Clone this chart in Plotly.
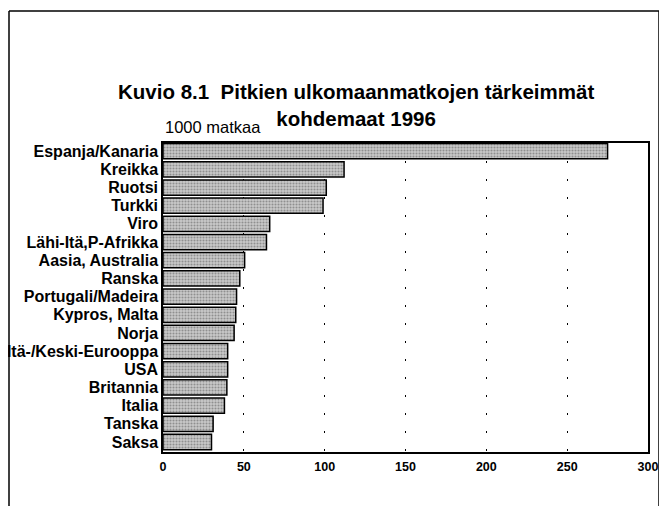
import plotly.graph_objects as go

# data (1000 trips)
countries = ["Espanja/Kanaria", "Kreikka", "Ruotsi", "Turkki", "Viro",
             "Lähi-Itä,P-Afrikka", "Aasia, Australia", "Ranska",
             "Portugali/Madeira", "Kypros, Malta", "Norja",
             "Itä-/Keski-Eurooppa", "USA", "Britannia", "Italia",
             "Tanska", "Saksa"]
trips = [275, 112, 101, 99, 66, 64, 50.5, 47.5, 45.5, 45, 44,
         40, 40, 39.5, 38, 31, 30]
xticks = [0, 50, 100, 150, 200, 250, 300]

font = "Liberation Sans, Arial, sans-serif"

# page body has an 8px margin, so the figure is laid out 8px smaller
OFF = 8
PL, PT, PW, PH = 163 - OFF, 143 - OFF, 485, 309
W, H = 667 - OFF, 506 - OFF

fig = go.Figure()
fig.add_trace(go.Bar(
    x=trips, y=countries, orientation="h",
    marker=dict(color="#c9c9c9",
                line=dict(color="black", width=1.5),
                pattern=dict(shape=".", fgcolor="#555555", size=3, solidity=0.4)),
))

fig.update_layout(
    width=W, height=H,
    margin=dict(l=PL, r=W - PL - PW, t=PT, b=H - PT - PH, autoexpand=False),
    paper_bgcolor="white", plot_bgcolor="white",
    showlegend=False, bargap=0.16,
    font=dict(family=font, color="black"),
)

fig.update_xaxes(
    range=[0, 300], tickvals=xticks, ticks="",
    tickfont=dict(size=12.5, family=font, weight="bold"),
    showgrid=True, gridcolor="black", gridwidth=1, griddash="2px,16px",
    showline=True, linecolor="black", linewidth=1.5, mirror=True,
    zeroline=False, ticklabelstandoff=2,
)
fig.update_yaxes(
    categoryorder="array", categoryarray=countries,
    tickmode="linear", tick0=0, dtick=1,
    range=[16.55, -0.45], ticks="",
    tickfont=dict(size=16, family=font, weight="bold"),
    showgrid=False, showline=True, linecolor="black", linewidth=1.5,
    mirror=True, ticklabelstandoff=0,
)


def px(x):
    return (x - OFF - PL) / PW


def py(y):
    return (PT + PH - (y - OFF)) / PH


# title and unit label
fig.add_annotation(
    text="Kuvio 8.1  Pitkien ulkomaanmatkojen tärkeimmät<br>kohdemaat 1996",
    xref="paper", yref="paper", x=px(356), y=py(105),
    xanchor="center", yanchor="middle", showarrow=False,
    font=dict(size=20.5, family=font, weight="bold"),
)
fig.add_annotation(
    text="1000 matkaa", xref="paper", yref="paper", x=px(163), y=py(127),
    xanchor="left", yanchor="middle", showarrow=False,
    font=dict(size=16.5, family=font),
)

# outer frame (top, left, right)
L, R, T, B = px(9), px(659), py(11), py(520)
for x0, y0, x1, y1 in [(L, T, R, T), (L, T, L, B), (R, T, R, B)]:
    fig.add_shape(type="line", xref="paper", yref="paper",
                  x0=x0, y0=y0, x1=x1, y1=y1,
                  line=dict(color="black", width=1.5))

fig.write_html("out.html")
